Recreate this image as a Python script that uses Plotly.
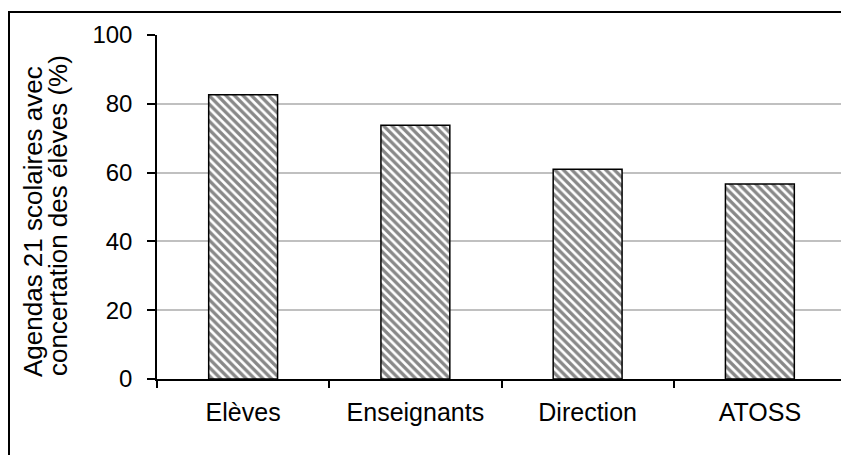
import plotly.graph_objects as go

categories = ["Elèves", "Enseignants", "Direction", "ATOSS"]
values = [82.6, 73.8, 61.0, 56.7]
y_ticks = [0, 20, 40, 60, 80, 100]
title_lines = ["Agendas 21 scolaires avec", "concertation des élèves (%)"]

FONT = "Liberation Sans, Arial, sans-serif"

# page body has an 8px offset; figure sized so the plot lands where the reference has it
W, H = 841, 447
L, R, T, B = 149, 3, 27, 76
PW, PH = W - L - R, H - T - B


def px(x):
    return (x - L) / PW


def py(y):
    return (T + PH - y) / PH


fig = go.Figure(
    go.Bar(
        x=categories,
        y=values,
        marker=dict(
            color="white",
            line=dict(color="black", width=1.5),
            pattern=dict(shape="\\", fgcolor="#111111", bgcolor="white",
                         size=6, solidity=0.55, fillmode="overlay"),
        ),
        width=0.4,
    )
)

annotations = [
    dict(text=title_lines[0], x=px(25), y=py(214), xref="paper", yref="paper",
         textangle=-90, showarrow=False, font=dict(size=26), xanchor="center", yanchor="middle"),
    dict(text=title_lines[1], x=px(50), y=py(208), xref="paper", yref="paper",
         textangle=-90, showarrow=False, font=dict(size=26), xanchor="center", yanchor="middle"),
]

fig.update_layout(
    width=W, height=H,
    margin=dict(l=L, r=R, t=T, b=B),
    paper_bgcolor="white", plot_bgcolor="white",
    font=dict(family=FONT, size=24, color="black"),
    showlegend=False,
    annotations=annotations,
    shapes=[
        dict(type="line", xref="paper", yref="paper", x0=1, x1=1, y0=0, y1=1,
             line=dict(color="#c0c0c0", width=1.5)),
        dict(type="rect", xref="paper", yref="paper",
             x0=px(1), x1=px(W + 5),
             y0=py(H + 5), y1=py(4),
             line=dict(color="black", width=2), fillcolor="rgba(0,0,0,0)",
             layer="below"),
    ],
)

fig.update_yaxes(
    range=[0, 100], tickvals=y_ticks,
    showgrid=True, gridcolor="#c0c0c0", gridwidth=1.5,
    showline=True, linecolor="black", linewidth=1.5,
    ticks="outside", ticklen=8, tickcolor="black", tickwidth=1.5,
    ticklabelstandoff=10,
    tickfont=dict(size=24),
    zeroline=False,
)
fig.update_xaxes(
    showline=True, linecolor="black", linewidth=1.5,
    ticks="outside", tickson="boundaries", ticklen=7, tickcolor="black", tickwidth=1.5,
    ticklabelstandoff=10,
    tickfont=dict(size=25),
)

fig.write_html("out.html")
